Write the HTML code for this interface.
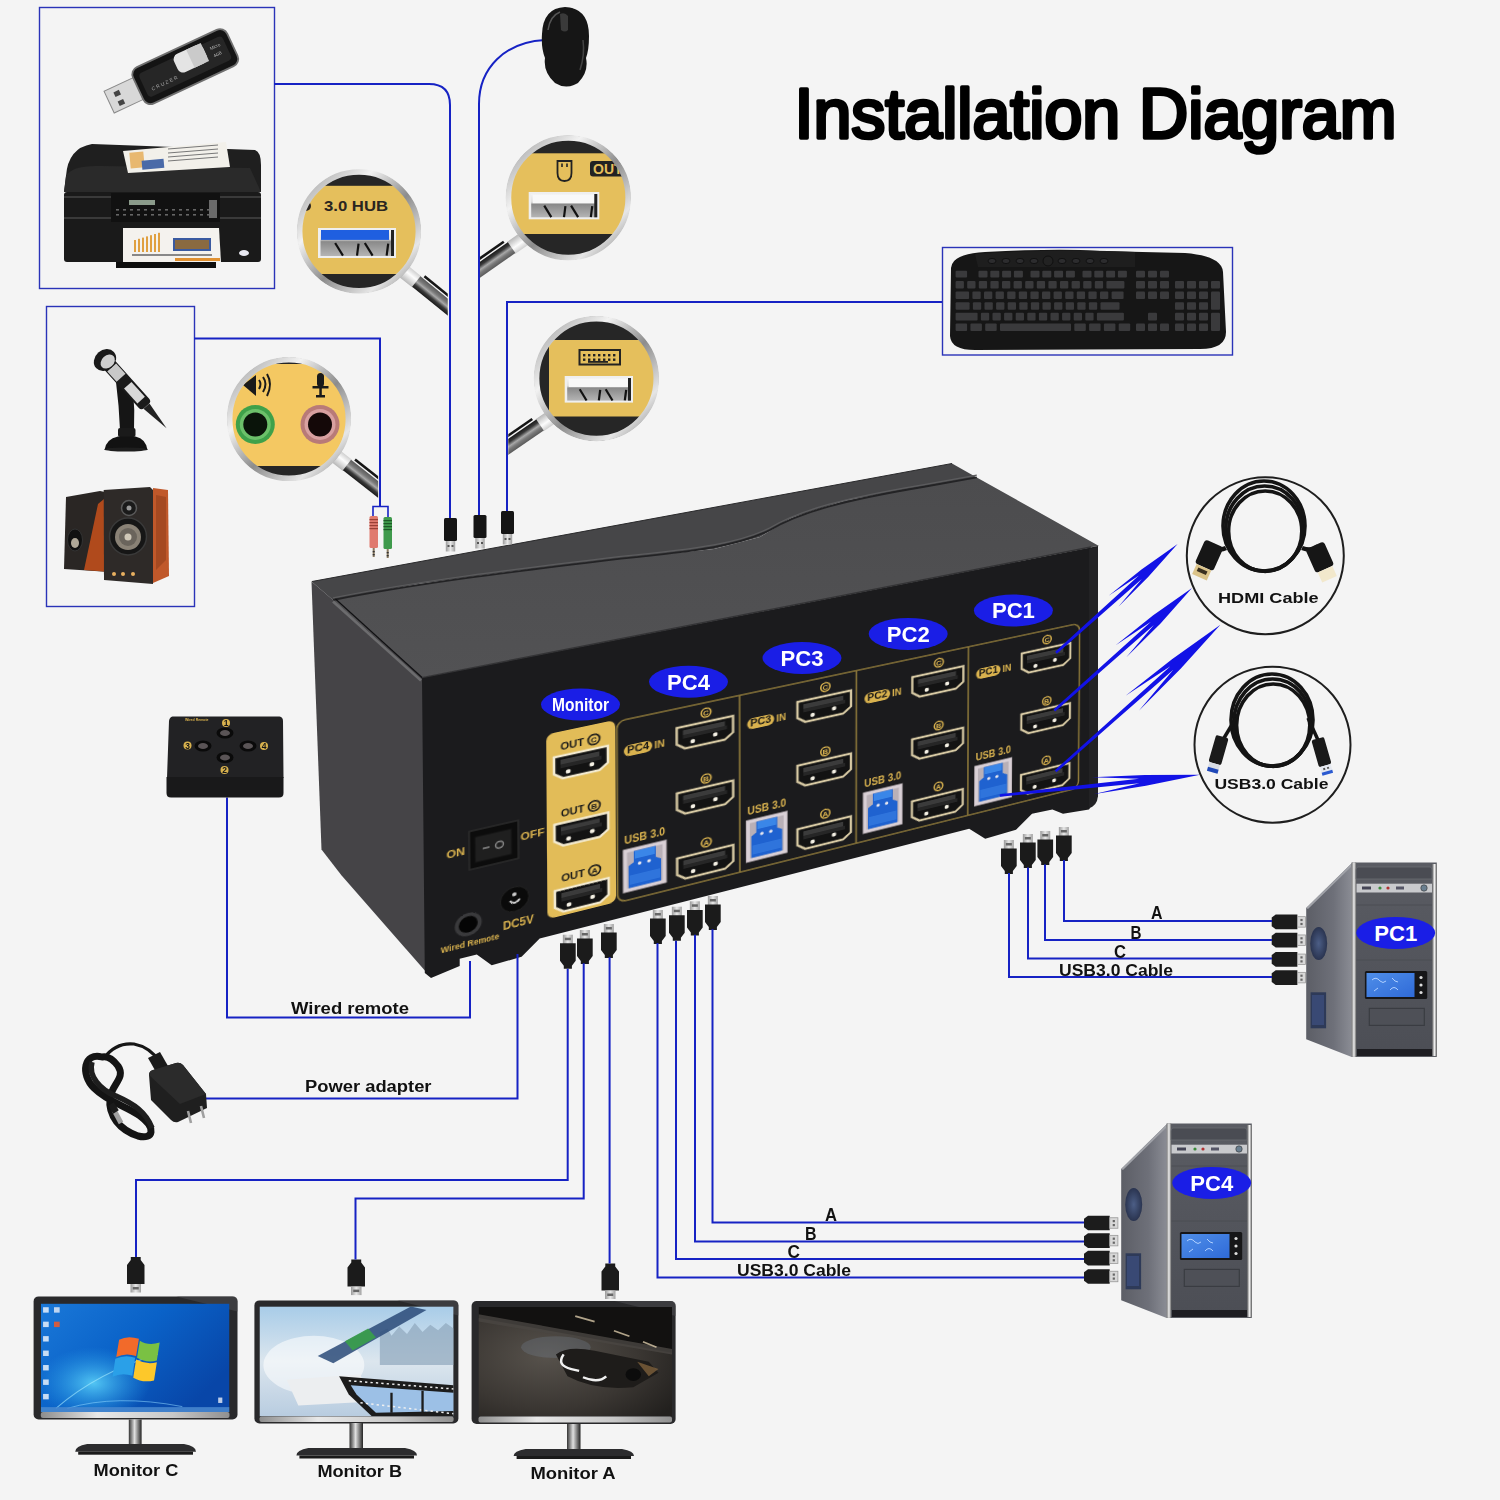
<!DOCTYPE html>
<html><head><meta charset="utf-8"><style>
html,body{margin:0;padding:0;background:#f4f4f4;width:1500px;height:1500px;overflow:hidden;position:relative}
svg text{font-family:"Liberation Sans",sans-serif}
.L{position:absolute;left:0;top:0}
</style></head><body>
<svg class="L" width="1500" height="1500" viewBox="0 0 1500 1500"><defs>
<linearGradient id="ring" x1="0" y1="0" x2="1" y2="1">
 <stop offset="0" stop-color="#9a9a9a"/><stop offset="0.3" stop-color="#f2f2f2"/>
 <stop offset="0.55" stop-color="#8c8c8c"/><stop offset="0.8" stop-color="#e6e6e6"/><stop offset="1" stop-color="#7a7a7a"/>
</linearGradient>
<linearGradient id="handle" x1="0" y1="0" x2="0" y2="1">
 <stop offset="0" stop-color="#5a5a5a"/><stop offset="0.3" stop-color="#7a7a7a"/><stop offset="0.5" stop-color="#a8a8a8"/><stop offset="0.75" stop-color="#3a3a3a"/><stop offset="1" stop-color="#1a1a1a"/>
</linearGradient>
<linearGradient id="ferrule" x1="0" y1="0" x2="0" y2="1">
 <stop offset="0" stop-color="#d0d0d0"/><stop offset="0.4" stop-color="#fcfcfc"/><stop offset="1" stop-color="#b8b8b8"/>
</linearGradient>
<linearGradient id="usbport" x1="0" y1="0" x2="0" y2="1">
 <stop offset="0" stop-color="#f4f4f4"/><stop offset="0.35" stop-color="#dcdcdc"/><stop offset="0.45" stop-color="#8a8a8a"/><stop offset="1" stop-color="#b4b4b4"/>
</linearGradient>
<linearGradient id="sideface" x1="0" y1="0" x2="1" y2="0">
 <stop offset="0" stop-color="#3c3c3e"/><stop offset="1" stop-color="#4a4a4c"/>
</linearGradient>
<linearGradient id="topface" x1="0" y1="0" x2="0" y2="1">
 <stop offset="0" stop-color="#4c4c4e"/><stop offset="1" stop-color="#525254"/>
</linearGradient>
<linearGradient id="pcside" x1="0" y1="0" x2="1" y2="0">
 <stop offset="0" stop-color="#5c5e66"/><stop offset="0.6" stop-color="#6e7079"/><stop offset="1" stop-color="#8a8c94"/>
</linearGradient>
<linearGradient id="pcfront" x1="0" y1="0" x2="0" y2="1">
 <stop offset="0" stop-color="#5a5c63"/><stop offset="1" stop-color="#4c4e55"/>
</linearGradient>
<linearGradient id="chrome" x1="0" y1="0" x2="1" y2="0">
 <stop offset="0" stop-color="#777"/><stop offset="0.5" stop-color="#f0f0f0"/><stop offset="1" stop-color="#666"/>
</linearGradient>
<linearGradient id="chin" x1="0" y1="0" x2="1" y2="0">
 <stop offset="0" stop-color="#8d8d8d"/><stop offset="0.3" stop-color="#e8e8e8"/><stop offset="0.7" stop-color="#c8c8c8"/><stop offset="1" stop-color="#909090"/>
</linearGradient>
<linearGradient id="neck" x1="0" y1="0" x2="1" y2="0">
 <stop offset="0" stop-color="#333"/><stop offset="0.45" stop-color="#e0e0e0"/><stop offset="1" stop-color="#222"/>
</linearGradient>
<linearGradient id="scrC" x1="0" y1="0" x2="1" y2="0.6">
 <stop offset="0" stop-color="#1a78d8"/><stop offset="0.5" stop-color="#0a62c8"/><stop offset="1" stop-color="#0846a8"/>
</linearGradient>
<radialGradient id="glowC" cx="0.5" cy="0.5" r="0.5">
 <stop offset="0" stop-color="#5ad0f8" stop-opacity="0.9"/><stop offset="1" stop-color="#2aa0e8" stop-opacity="0"/>
</radialGradient>
<linearGradient id="scrB" x1="0" y1="0" x2="0" y2="1">
 <stop offset="0" stop-color="#a8cce8"/><stop offset="0.5" stop-color="#dce6ee"/><stop offset="1" stop-color="#b8cce0"/>
</linearGradient>
<radialGradient id="scrA" cx="0.35" cy="0.45" r="0.8">
 <stop offset="0" stop-color="#57524c"/><stop offset="0.6" stop-color="#3a3632"/><stop offset="1" stop-color="#22201e"/>
</radialGradient>
<linearGradient id="lcd" x1="0" y1="0" x2="1" y2="1">
 <stop offset="0" stop-color="#4f8ee8"/><stop offset="1" stop-color="#2f6ad8"/>
</linearGradient>
<radialGradient id="fan" cx="0.5" cy="0.5" r="0.5">
 <stop offset="0" stop-color="#4c5e86"/><stop offset="1" stop-color="#2a3450"/>
</radialGradient>
<linearGradient id="metal" x1="0" y1="0" x2="1" y2="0">
 <stop offset="0" stop-color="#9a9a9a"/><stop offset="0.5" stop-color="#e8e8e8"/><stop offset="1" stop-color="#a0a0a0"/>
</linearGradient>
<linearGradient id="gold" x1="0" y1="0" x2="0" y2="1">
 <stop offset="0" stop-color="#e8c460"/><stop offset="1" stop-color="#dcb452"/>
</linearGradient>
</defs><text x="794.5" y="137.8" font-family="Liberation Sans" font-size="69.5" textLength="602" lengthAdjust="spacingAndGlyphs" fill="#000" stroke="#000" stroke-width="3.6" stroke-linejoin="round">Installation Diagram</text><rect x="39.5" y="7.5" width="235" height="281" fill="none" stroke="#2a33b8" stroke-width="1.4"/><rect x="46.5" y="306.5" width="148" height="300" fill="none" stroke="#2a33b8" stroke-width="1.4"/><rect x="942.5" y="247.5" width="290" height="107.5" fill="none" stroke="#2a33b8" stroke-width="1.4"/><path d="M274 84 L429 84" fill="none" stroke="#1622c4" stroke-width="2" /><path d="M429 84 Q450 84 450 105 L450 520" fill="none" stroke="#1622c4" stroke-width="2"/><path d="M545 40 C505 42 479 68 479 104 L479 516" fill="none" stroke="#1622c4" stroke-width="2"/><path d="M942 302 L507 302 L507 512" fill="none" stroke="#1622c4" stroke-width="2" /><path d="M194 338.5 L380 338.5 L380 506.5" fill="none" stroke="#1622c4" stroke-width="2" /><path d="M373 517 L373 506.5 L388 506.5 L388 517" fill="none" stroke="#1622c4" stroke-width="1.6" /><path d="M311.5 581.5 L952 463.5 L976.8 477.4 L976.8 477.4 L922.7 487 L845 500.6 L791 518 L760 537 L714 549 L621 558.6 L509 572 L420 583.7 L333 600 Z" fill="#464648"/><path d="M311.5 581.5 L333 600 L420 583.7 L509 572 L621 558.6 L714 549 L760 537 L791 518 L845 500.6 L922.7 487 L976.8 477.4 L1099 546 L1092 547 L422 677.6 Z" fill="url(#topface)"/><path d="M333 600 C420 583 509 572 621 558.6 C700 551 740 545 770 530 C800 512 845 500 922.7 487 L976.8 477.4" fill="none" stroke="#232325" stroke-width="1.8"/><path d="M333 597.8 C420 580.8 509 569.8 621 556.4 C700 548.8 740 542.8 770 527.8 C800 509.8 845 497.8 922.7 484.8 L976.8 475.2" fill="none" stroke="#5c5c5e" stroke-width="1.2"/><path d="M311.5 581.5 L424 678 L427 973 L341.6 875.4 L321.5 849.6 Z" fill="#454447"/><path d="M333 601.5 L421 680.5" stroke="#6c6c6e" stroke-width="2.6" fill="none"/><path d="M335.5 599 L422.5 678" stroke="#111113" stroke-width="1.2" fill="none"/><path d="M312 581.5 L952 463.5" stroke="#2a2a2c" stroke-width="1" fill="none"/><path d="M422 677.6 L1098 546 L1098 796 L1089 809.5 L1063 813.7 L1052.4 809.5 L1032 813.7 L1016 829.7 L985.2 838.8 L969.2 828.7 L539.7 938.6 L521.6 956.8 L491.7 965.3 L476.8 954.5 L459.7 958.8 L459.7 966 L431 978 L424.8 973 Z" fill="#1b1b1d"/><path d="M1089 549 L1098 547 L1098 796 Q1097 806 1089 808 Z" fill="#222224"/><path d="M422 677.6 L1091 547" stroke="#333335" stroke-width="1.4" fill="none"/></svg>
<div style="position:absolute;left:0;top:0;width:670px;height:300px;transform-origin:0 0;transform:matrix3d(1.24698826,-0.0718020769,0,0.000226179728,0.02129729,0.992397906,0,2.65818588e-05,0,0,1,0,422,678,0,1)"><svg width="670" height="300" viewBox="0 0 670 300" style="display:block;overflow:visible"><rect x="110" y="85" width="64" height="196" rx="7" fill="#e2bc58"/><rect x="175.5" y="87" width="481" height="195" rx="8" fill="none" stroke="#8f7a3a" stroke-width="1.6"/><line x1="294" y1="87" x2="294" y2="282" stroke="#8f7a3a" stroke-width="1.6"/><line x1="412.5" y1="87" x2="412.5" y2="282" stroke="#8f7a3a" stroke-width="1.6"/><line x1="532" y1="87" x2="532" y2="282" stroke="#8f7a3a" stroke-width="1.6"/><path d="M117 111 L167 111 L167 129 L159 135 L125 135 L117 129 L117 111 Z" fill="#131313" stroke="#f3ead0" stroke-width="2.4"/><rect x="123" y="115" width="36" height="5" fill="#3b3b3b"/><rect x="123" y="120" width="38" height="4" fill="#262626"/><circle cx="130" cy="129" r="2.3" fill="#f4f0e4"/><circle cx="152" cy="127" r="2.3" fill="#f4f0e4"/><text x="123" y="105" font-family="Liberation Sans" font-weight="bold" font-size="11" fill="#1a1a1a" textLength="22" lengthAdjust="spacingAndGlyphs">OUT</text><circle cx="154" cy="101" r="5.4" fill="none" stroke="#1a1a1a" stroke-width="1.6"/><text x="154" y="103.9" font-family="Liberation Sans" font-weight="bold" font-size="8" text-anchor="middle" fill="#1a1a1a">C</text><path d="M117 182.5 L167 182.5 L167 200.5 L159 206.5 L125 206.5 L117 200.5 L117 182.5 Z" fill="#131313" stroke="#f3ead0" stroke-width="2.4"/><rect x="123" y="186.5" width="36" height="5" fill="#3b3b3b"/><rect x="123" y="191.5" width="38" height="4" fill="#262626"/><circle cx="130" cy="200.5" r="2.3" fill="#f4f0e4"/><circle cx="152" cy="198.5" r="2.3" fill="#f4f0e4"/><text x="123" y="176" font-family="Liberation Sans" font-weight="bold" font-size="11" fill="#1a1a1a" textLength="22" lengthAdjust="spacingAndGlyphs">OUT</text><circle cx="154" cy="172" r="5.4" fill="none" stroke="#1a1a1a" stroke-width="1.6"/><text x="154" y="174.9" font-family="Liberation Sans" font-weight="bold" font-size="8" text-anchor="middle" fill="#1a1a1a">B</text><path d="M117 253 L167 253 L167 271 L159 277 L125 277 L117 271 L117 253 Z" fill="#131313" stroke="#f3ead0" stroke-width="2.4"/><rect x="123" y="257" width="36" height="5" fill="#3b3b3b"/><rect x="123" y="262" width="38" height="4" fill="#262626"/><circle cx="130" cy="271" r="2.3" fill="#f4f0e4"/><circle cx="152" cy="269" r="2.3" fill="#f4f0e4"/><text x="123" y="245" font-family="Liberation Sans" font-weight="bold" font-size="11" fill="#1a1a1a" textLength="22" lengthAdjust="spacingAndGlyphs">OUT</text><circle cx="154" cy="241" r="5.4" fill="none" stroke="#1a1a1a" stroke-width="1.6"/><text x="154" y="243.9" font-family="Liberation Sans" font-weight="bold" font-size="8" text-anchor="middle" fill="#1a1a1a">A</text><path d="M232.5 108 L287.5 108 L287.5 126 L279.5 132 L240.5 132 L232.5 126 L232.5 108 Z" fill="#131313" stroke="#d8caa4" stroke-width="2.4"/><rect x="238.5" y="112" width="41" height="5" fill="#3b3b3b"/><rect x="238.5" y="117" width="43" height="4" fill="#262626"/><circle cx="248" cy="126" r="2.3" fill="#f4f0e4"/><circle cx="270" cy="124" r="2.3" fill="#f4f0e4"/><circle cx="261" cy="98" r="4.7" fill="none" stroke="#d9b24e" stroke-width="1.6"/><text x="261" y="100.9" font-family="Liberation Sans" font-weight="bold" font-size="8" text-anchor="middle" fill="#d9b24e">C</text><path d="M232.5 179 L287.5 179 L287.5 197 L279.5 203 L240.5 203 L232.5 197 L232.5 179 Z" fill="#131313" stroke="#d8caa4" stroke-width="2.4"/><rect x="238.5" y="183" width="41" height="5" fill="#3b3b3b"/><rect x="238.5" y="188" width="43" height="4" fill="#262626"/><circle cx="248" cy="197" r="2.3" fill="#f4f0e4"/><circle cx="270" cy="195" r="2.3" fill="#f4f0e4"/><circle cx="261" cy="170" r="4.7" fill="none" stroke="#d9b24e" stroke-width="1.6"/><text x="261" y="172.9" font-family="Liberation Sans" font-weight="bold" font-size="8" text-anchor="middle" fill="#d9b24e">B</text><path d="M232.5 250 L287.5 250 L287.5 268 L279.5 274 L240.5 274 L232.5 268 L232.5 250 Z" fill="#131313" stroke="#d8caa4" stroke-width="2.4"/><rect x="238.5" y="254" width="41" height="5" fill="#3b3b3b"/><rect x="238.5" y="259" width="43" height="4" fill="#262626"/><circle cx="248" cy="268" r="2.3" fill="#f4f0e4"/><circle cx="270" cy="266" r="2.3" fill="#f4f0e4"/><circle cx="261" cy="240" r="4.7" fill="none" stroke="#d9b24e" stroke-width="1.6"/><text x="261" y="242.9" font-family="Liberation Sans" font-weight="bold" font-size="8" text-anchor="middle" fill="#d9b24e">A</text><rect x="181" y="227" width="41" height="46" fill="#d9d0d6" stroke="#bdb3b9" stroke-width="1"/><rect x="184.5" y="230.5" width="34" height="39" fill="#b9b0b7"/><path d="M191 230.5 h21 v12 l5 3 v24 h-31 v-24 l5 -3 z" fill="#1f62d0"/><rect x="192" y="231" width="19" height="8" fill="#3a86e8"/><rect x="187" y="256" width="29" height="10" fill="#2f74dc"/><circle cx="196.5" cy="245" r="1.8" fill="#e8e8f0"/><circle cx="205.5" cy="245" r="1.8" fill="#e8e8f0"/><text x="182" y="221.5" font-family="Liberation Sans" font-weight="bold" font-size="12.5" fill="#d9b24e" textLength="39" lengthAdjust="spacingAndGlyphs">USB 3.0</text><rect x="182" y="115" width="27" height="12" rx="6" fill="#d9b24e"/><text x="185" y="124.5" font-family="Liberation Sans" font-weight="bold" font-size="10" fill="#161616" textLength="21" lengthAdjust="spacingAndGlyphs">PC4</text><text x="211" y="125" font-family="Liberation Sans" font-weight="bold" font-size="10" fill="#d9b24e">IN</text><path d="M352 108 L407 108 L407 126 L399 132 L360 132 L352 126 L352 108 Z" fill="#131313" stroke="#d8caa4" stroke-width="2.4"/><rect x="358" y="112" width="41" height="5" fill="#3b3b3b"/><rect x="358" y="117" width="43" height="4" fill="#262626"/><circle cx="367.5" cy="126" r="2.3" fill="#f4f0e4"/><circle cx="389.5" cy="124" r="2.3" fill="#f4f0e4"/><circle cx="380.5" cy="98" r="4.7" fill="none" stroke="#d9b24e" stroke-width="1.6"/><text x="380.5" y="100.9" font-family="Liberation Sans" font-weight="bold" font-size="8" text-anchor="middle" fill="#d9b24e">C</text><path d="M352 179 L407 179 L407 197 L399 203 L360 203 L352 197 L352 179 Z" fill="#131313" stroke="#d8caa4" stroke-width="2.4"/><rect x="358" y="183" width="41" height="5" fill="#3b3b3b"/><rect x="358" y="188" width="43" height="4" fill="#262626"/><circle cx="367.5" cy="197" r="2.3" fill="#f4f0e4"/><circle cx="389.5" cy="195" r="2.3" fill="#f4f0e4"/><circle cx="380.5" cy="170" r="4.7" fill="none" stroke="#d9b24e" stroke-width="1.6"/><text x="380.5" y="172.9" font-family="Liberation Sans" font-weight="bold" font-size="8" text-anchor="middle" fill="#d9b24e">B</text><path d="M352 250 L407 250 L407 268 L399 274 L360 274 L352 268 L352 250 Z" fill="#131313" stroke="#d8caa4" stroke-width="2.4"/><rect x="358" y="254" width="41" height="5" fill="#3b3b3b"/><rect x="358" y="259" width="43" height="4" fill="#262626"/><circle cx="367.5" cy="268" r="2.3" fill="#f4f0e4"/><circle cx="389.5" cy="266" r="2.3" fill="#f4f0e4"/><circle cx="380.5" cy="240" r="4.7" fill="none" stroke="#d9b24e" stroke-width="1.6"/><text x="380.5" y="242.9" font-family="Liberation Sans" font-weight="bold" font-size="8" text-anchor="middle" fill="#d9b24e">A</text><rect x="300.5" y="227" width="41" height="46" fill="#d9d0d6" stroke="#bdb3b9" stroke-width="1"/><rect x="304" y="230.5" width="34" height="39" fill="#b9b0b7"/><path d="M310.5 230.5 h21 v12 l5 3 v24 h-31 v-24 l5 -3 z" fill="#1f62d0"/><rect x="311.5" y="231" width="19" height="8" fill="#3a86e8"/><rect x="306.5" y="256" width="29" height="10" fill="#2f74dc"/><circle cx="316" cy="245" r="1.8" fill="#e8e8f0"/><circle cx="325" cy="245" r="1.8" fill="#e8e8f0"/><text x="301.5" y="221.5" font-family="Liberation Sans" font-weight="bold" font-size="12.5" fill="#d9b24e" textLength="39" lengthAdjust="spacingAndGlyphs">USB 3.0</text><rect x="301.5" y="115" width="27" height="12" rx="6" fill="#d9b24e"/><text x="304.5" y="124.5" font-family="Liberation Sans" font-weight="bold" font-size="10" fill="#161616" textLength="21" lengthAdjust="spacingAndGlyphs">PC3</text><text x="330.5" y="125" font-family="Liberation Sans" font-weight="bold" font-size="10" fill="#d9b24e">IN</text><path d="M471.5 108 L526.5 108 L526.5 126 L518.5 132 L479.5 132 L471.5 126 L471.5 108 Z" fill="#131313" stroke="#d8caa4" stroke-width="2.4"/><rect x="477.5" y="112" width="41" height="5" fill="#3b3b3b"/><rect x="477.5" y="117" width="43" height="4" fill="#262626"/><circle cx="487" cy="126" r="2.3" fill="#f4f0e4"/><circle cx="509" cy="124" r="2.3" fill="#f4f0e4"/><circle cx="500" cy="98" r="4.7" fill="none" stroke="#d9b24e" stroke-width="1.6"/><text x="500" y="100.9" font-family="Liberation Sans" font-weight="bold" font-size="8" text-anchor="middle" fill="#d9b24e">C</text><path d="M471.5 179 L526.5 179 L526.5 197 L518.5 203 L479.5 203 L471.5 197 L471.5 179 Z" fill="#131313" stroke="#d8caa4" stroke-width="2.4"/><rect x="477.5" y="183" width="41" height="5" fill="#3b3b3b"/><rect x="477.5" y="188" width="43" height="4" fill="#262626"/><circle cx="487" cy="197" r="2.3" fill="#f4f0e4"/><circle cx="509" cy="195" r="2.3" fill="#f4f0e4"/><circle cx="500" cy="170" r="4.7" fill="none" stroke="#d9b24e" stroke-width="1.6"/><text x="500" y="172.9" font-family="Liberation Sans" font-weight="bold" font-size="8" text-anchor="middle" fill="#d9b24e">B</text><path d="M471.5 250 L526.5 250 L526.5 268 L518.5 274 L479.5 274 L471.5 268 L471.5 250 Z" fill="#131313" stroke="#d8caa4" stroke-width="2.4"/><rect x="477.5" y="254" width="41" height="5" fill="#3b3b3b"/><rect x="477.5" y="259" width="43" height="4" fill="#262626"/><circle cx="487" cy="268" r="2.3" fill="#f4f0e4"/><circle cx="509" cy="266" r="2.3" fill="#f4f0e4"/><circle cx="500" cy="240" r="4.7" fill="none" stroke="#d9b24e" stroke-width="1.6"/><text x="500" y="242.9" font-family="Liberation Sans" font-weight="bold" font-size="8" text-anchor="middle" fill="#d9b24e">A</text><rect x="420" y="227" width="41" height="46" fill="#d9d0d6" stroke="#bdb3b9" stroke-width="1"/><rect x="423.5" y="230.5" width="34" height="39" fill="#b9b0b7"/><path d="M430 230.5 h21 v12 l5 3 v24 h-31 v-24 l5 -3 z" fill="#1f62d0"/><rect x="431" y="231" width="19" height="8" fill="#3a86e8"/><rect x="426" y="256" width="29" height="10" fill="#2f74dc"/><circle cx="435.5" cy="245" r="1.8" fill="#e8e8f0"/><circle cx="444.5" cy="245" r="1.8" fill="#e8e8f0"/><text x="421" y="221.5" font-family="Liberation Sans" font-weight="bold" font-size="12.5" fill="#d9b24e" textLength="39" lengthAdjust="spacingAndGlyphs">USB 3.0</text><rect x="421" y="115" width="27" height="12" rx="6" fill="#d9b24e"/><text x="424" y="124.5" font-family="Liberation Sans" font-weight="bold" font-size="10" fill="#161616" textLength="21" lengthAdjust="spacingAndGlyphs">PC2</text><text x="450" y="125" font-family="Liberation Sans" font-weight="bold" font-size="10" fill="#d9b24e">IN</text><path d="M591 108 L646 108 L646 126 L638 132 L599 132 L591 126 L591 108 Z" fill="#131313" stroke="#d8caa4" stroke-width="2.4"/><rect x="597" y="112" width="41" height="5" fill="#3b3b3b"/><rect x="597" y="117" width="43" height="4" fill="#262626"/><circle cx="606.5" cy="126" r="2.3" fill="#f4f0e4"/><circle cx="628.5" cy="124" r="2.3" fill="#f4f0e4"/><circle cx="619.5" cy="98" r="4.7" fill="none" stroke="#d9b24e" stroke-width="1.6"/><text x="619.5" y="100.9" font-family="Liberation Sans" font-weight="bold" font-size="8" text-anchor="middle" fill="#d9b24e">C</text><path d="M591 179 L646 179 L646 197 L638 203 L599 203 L591 197 L591 179 Z" fill="#131313" stroke="#d8caa4" stroke-width="2.4"/><rect x="597" y="183" width="41" height="5" fill="#3b3b3b"/><rect x="597" y="188" width="43" height="4" fill="#262626"/><circle cx="606.5" cy="197" r="2.3" fill="#f4f0e4"/><circle cx="628.5" cy="195" r="2.3" fill="#f4f0e4"/><circle cx="619.5" cy="170" r="4.7" fill="none" stroke="#d9b24e" stroke-width="1.6"/><text x="619.5" y="172.9" font-family="Liberation Sans" font-weight="bold" font-size="8" text-anchor="middle" fill="#d9b24e">B</text><path d="M591 250 L646 250 L646 268 L638 274 L599 274 L591 268 L591 250 Z" fill="#131313" stroke="#d8caa4" stroke-width="2.4"/><rect x="597" y="254" width="41" height="5" fill="#3b3b3b"/><rect x="597" y="259" width="43" height="4" fill="#262626"/><circle cx="606.5" cy="268" r="2.3" fill="#f4f0e4"/><circle cx="628.5" cy="266" r="2.3" fill="#f4f0e4"/><circle cx="619.5" cy="240" r="4.7" fill="none" stroke="#d9b24e" stroke-width="1.6"/><text x="619.5" y="242.9" font-family="Liberation Sans" font-weight="bold" font-size="8" text-anchor="middle" fill="#d9b24e">A</text><rect x="539.5" y="227" width="41" height="46" fill="#d9d0d6" stroke="#bdb3b9" stroke-width="1"/><rect x="543" y="230.5" width="34" height="39" fill="#b9b0b7"/><path d="M549.5 230.5 h21 v12 l5 3 v24 h-31 v-24 l5 -3 z" fill="#1f62d0"/><rect x="550.5" y="231" width="19" height="8" fill="#3a86e8"/><rect x="545.5" y="256" width="29" height="10" fill="#2f74dc"/><circle cx="555" cy="245" r="1.8" fill="#e8e8f0"/><circle cx="564" cy="245" r="1.8" fill="#e8e8f0"/><text x="540.5" y="221.5" font-family="Liberation Sans" font-weight="bold" font-size="12.5" fill="#d9b24e" textLength="39" lengthAdjust="spacingAndGlyphs">USB 3.0</text><rect x="540.5" y="115" width="27" height="12" rx="6" fill="#d9b24e"/><text x="543.5" y="124.5" font-family="Liberation Sans" font-weight="bold" font-size="10" fill="#161616" textLength="21" lengthAdjust="spacingAndGlyphs">PC1</text><text x="569.5" y="125" font-family="Liberation Sans" font-weight="bold" font-size="10" fill="#d9b24e">IN</text><rect x="40" y="169" width="44" height="40" fill="#0c0c0c" stroke="#2b2b2b" stroke-width="1.5"/><rect x="45" y="176" width="33" height="27" fill="#1f1f1f" stroke="#111" stroke-width="1"/><line x1="52" y1="190" x2="58" y2="190" stroke="#8a8a8a" stroke-width="1.6"/><circle cx="67" cy="190" r="3.5" fill="none" stroke="#8a8a8a" stroke-width="1.4"/><text x="28" y="192" font-family="Liberation Sans" font-weight="bold" font-size="11" text-anchor="middle" fill="#d9b24e">ON</text><text x="97" y="191" font-family="Liberation Sans" font-weight="bold" font-size="11" text-anchor="middle" fill="#d9b24e">OFF</text><circle cx="38.5" cy="265.7" r="12" fill="#3a3a3c"/><circle cx="38.5" cy="265.7" r="8.5" fill="#050505"/><circle cx="80.3" cy="251.2" r="13" fill="#0a0a0a" stroke="#222" stroke-width="1"/><path d="M76 252 q4 6 9 0" stroke="#d0d0d0" stroke-width="2" fill="none"/><circle cx="80" cy="246" r="2" fill="#cfcfcf"/><text x="40" y="289" font-family="Liberation Sans" font-weight="bold" font-size="9" text-anchor="middle" fill="#d9b24e" textLength="52" lengthAdjust="spacingAndGlyphs">Wired Remote</text><text x="83.4" y="281" font-family="Liberation Sans" font-weight="bold" font-size="12" text-anchor="middle" fill="#d9b24e" textLength="28" lengthAdjust="spacingAndGlyphs">DC5V</text></svg></div>
<svg class="L" width="1500" height="1500" viewBox="0 0 1500 1500"><ellipse cx="580.5" cy="704.5" rx="39.5" ry="16" fill="#1a1ee6"/><text x="580.5" y="711.34" font-family="Liberation Sans" font-weight="bold" font-size="19" text-anchor="middle" fill="#fff" textLength="57" lengthAdjust="spacingAndGlyphs">Monitor</text><ellipse cx="688.5" cy="681.8" rx="39.5" ry="16" fill="#1a1ee6"/><text x="688.5" y="689.54" font-family="Liberation Sans" font-weight="bold" font-size="21.5" text-anchor="middle" fill="#fff" textLength="43" lengthAdjust="spacingAndGlyphs">PC4</text><ellipse cx="802" cy="658" rx="39.5" ry="16" fill="#1a1ee6"/><text x="802" y="665.74" font-family="Liberation Sans" font-weight="bold" font-size="21.5" text-anchor="middle" fill="#fff" textLength="43" lengthAdjust="spacingAndGlyphs">PC3</text><ellipse cx="908.2" cy="633.9" rx="39.5" ry="16" fill="#1a1ee6"/><text x="908.2" y="641.64" font-family="Liberation Sans" font-weight="bold" font-size="21.5" text-anchor="middle" fill="#fff" textLength="43" lengthAdjust="spacingAndGlyphs">PC2</text><ellipse cx="1013.4" cy="610.5" rx="39.5" ry="16" fill="#1a1ee6"/><text x="1013.4" y="618.24" font-family="Liberation Sans" font-weight="bold" font-size="21.5" text-anchor="middle" fill="#fff" textLength="43" lengthAdjust="spacingAndGlyphs">PC1</text><clipPath id="m1"><circle cx="359" cy="231.4" r="59.5"/></clipPath><clipPath id="m1h"><rect x="0" y="0" width="447.774" height="1500"/></clipPath><g clip-path="url(#m1h)"><g transform="translate(416.3 281.5) rotate(39)"><rect x="-16" y="-7.2" width="17" height="14.4" rx="1" fill="url(#ferrule)"/><rect x="0" y="-6.6" width="48.5" height="13.2" fill="url(#handle)"/><rect x="3" y="-10.5" width="45.5" height="2.6" fill="#151515"/><rect x="40.5" y="-12" width="10" height="24" fill="none"/></g></g><circle cx="359" cy="231.4" r="61.5" fill="#262626"/><g clip-path="url(#m1)"><rect x="290" y="185.8" width="140" height="88.2" fill="#e5bf5c"/><text x="356" y="211" font-family="Liberation Sans" font-weight="bold" font-size="14.5" text-anchor="middle" fill="#2a2520" textLength="64" lengthAdjust="spacingAndGlyphs">3.0 HUB</text><circle cx="306" cy="206" r="5" fill="#2a2520"/><rect x="318" y="228" width="78" height="30" fill="#efefef"/><rect x="320.5" y="230" width="73" height="26" fill="url(#usbport)"/><rect x="321" y="230" width="68" height="9.9" fill="#1f5fe0"/><path d="M335.16 243 l7.8 12.6" stroke="#111" stroke-width="2.2"/><path d="M358.56 243.6 l-1.56 12" stroke="#111" stroke-width="2.2"/><path d="M364.8 243 l7.8 12.6" stroke="#111" stroke-width="2.2"/><path d="M388.2 243.6 l-1.56 12" stroke="#111" stroke-width="2.2"/><rect x="391" y="230" width="3" height="26" fill="#222"/></g><circle cx="359" cy="231.4" r="59.3" fill="none" stroke="url(#ring)" stroke-width="5.5"/><clipPath id="m2"><circle cx="568.3" cy="197.7" r="60"/></clipPath><clipPath id="m2h"><rect x="480.063" y="0" width="1500" height="1500"/></clipPath><g clip-path="url(#m2h)"><g transform="translate(511.6 247.6) rotate(145)"><rect x="-16" y="-7.2" width="17" height="14.4" rx="1" fill="url(#ferrule)"/><rect x="0" y="-6.6" width="46.5" height="13.2" fill="url(#handle)"/><rect x="3" y="8" width="43.5" height="2.6" fill="#151515"/><rect x="38.5" y="-12" width="10" height="24" fill="none"/></g></g><circle cx="568.3" cy="197.7" r="62" fill="#262626"/><g clip-path="url(#m2)"><rect x="500" y="153.3" width="140" height="80.7" fill="#e5bf5c"/><path d="M557.5 161 h14 v12 q0 8 -7 8 q-7 0 -7 -8 z" fill="none" stroke="#222" stroke-width="1.8"/><line x1="562" y1="163.5" x2="562" y2="167" stroke="#222" stroke-width="1.6"/><line x1="567" y1="163.5" x2="567" y2="167" stroke="#222" stroke-width="1.6"/><rect x="590" y="161" width="60" height="15.5" rx="3" fill="#222"/><text x="593" y="174" font-family="Liberation Sans" font-weight="bold" font-size="14" fill="#e5bf5c">OUT</text><rect x="528.7" y="192" width="70.6" height="27.3" fill="#efefef"/><rect x="531.2" y="194" width="65.6" height="23.3" fill="url(#usbport)"/><rect x="532.7" y="195" width="61.6" height="8.19" fill="#f8f8f8"/><path d="M544.232 205.65 l7.06 11.466" stroke="#111" stroke-width="2.2"/><path d="M565.412 206.196 l-1.412 10.92" stroke="#111" stroke-width="2.2"/><path d="M571.06 205.65 l7.06 11.466" stroke="#111" stroke-width="2.2"/><path d="M592.24 206.196 l-1.412 10.92" stroke="#111" stroke-width="2.2"/><rect x="594.3" y="194" width="3" height="23.3" fill="#222"/></g><circle cx="568.3" cy="197.7" r="59.8" fill="none" stroke="url(#ring)" stroke-width="5.5"/><clipPath id="m3"><circle cx="596.4" cy="378.6" r="60"/></clipPath><clipPath id="m3h"><rect x="508.271" y="0" width="1500" height="1500"/></clipPath><g clip-path="url(#m3h)"><g transform="translate(540 425) rotate(145.5)"><rect x="-16" y="-7.2" width="17" height="14.4" rx="1" fill="url(#ferrule)"/><rect x="0" y="-6.6" width="46.5" height="13.2" fill="url(#handle)"/><rect x="3" y="8" width="43.5" height="2.6" fill="#151515"/><rect x="38.5" y="-12" width="10" height="24" fill="none"/></g></g><circle cx="596.4" cy="378.6" r="62" fill="#262626"/><g clip-path="url(#m3)"><rect x="549" y="340" width="120" height="76.5" fill="#e5bf5c"/><rect x="579.5" y="350" width="40.5" height="14.5" fill="none" stroke="#222" stroke-width="2"/><rect x="583" y="354" width="2.4" height="2.4" fill="#222"/><rect x="588" y="354" width="2.4" height="2.4" fill="#222"/><rect x="593" y="354" width="2.4" height="2.4" fill="#222"/><rect x="598" y="354" width="2.4" height="2.4" fill="#222"/><rect x="603" y="354" width="2.4" height="2.4" fill="#222"/><rect x="608" y="354" width="2.4" height="2.4" fill="#222"/><rect x="613" y="354" width="2.4" height="2.4" fill="#222"/><rect x="583" y="358.5" width="2.4" height="2.4" fill="#222"/><rect x="588" y="358.5" width="2.4" height="2.4" fill="#222"/><rect x="593" y="358.5" width="2.4" height="2.4" fill="#222"/><rect x="598" y="358.5" width="2.4" height="2.4" fill="#222"/><rect x="603" y="358.5" width="2.4" height="2.4" fill="#222"/><rect x="608" y="358.5" width="2.4" height="2.4" fill="#222"/><rect x="613" y="358.5" width="2.4" height="2.4" fill="#222"/><rect x="588" y="361" width="20" height="1.8" fill="#222"/><rect x="564.7" y="376" width="68.3" height="26.6" fill="#efefef"/><rect x="567.2" y="378" width="63.3" height="22.6" fill="url(#usbport)"/><rect x="568.7" y="379" width="59.3" height="7.98" fill="#f8f8f8"/><path d="M579.726 389.3 l6.83 11.172" stroke="#111" stroke-width="2.2"/><path d="M600.216 389.832 l-1.366 10.64" stroke="#111" stroke-width="2.2"/><path d="M605.68 389.3 l6.83 11.172" stroke="#111" stroke-width="2.2"/><path d="M626.17 389.832 l-1.366 10.64" stroke="#111" stroke-width="2.2"/><rect x="628" y="378" width="3" height="22.6" fill="#222"/></g><circle cx="596.4" cy="378.6" r="59.8" fill="none" stroke="url(#ring)" stroke-width="5.5"/><clipPath id="m4"><circle cx="289" cy="419" r="59.5"/></clipPath><clipPath id="m4h"><rect x="0" y="0" width="378.126" height="1500"/></clipPath><g clip-path="url(#m4h)"><g transform="translate(347 465) rotate(38)"><rect x="-16" y="-7.2" width="17" height="14.4" rx="1" fill="url(#ferrule)"/><rect x="0" y="-6.6" width="47.5" height="13.2" fill="url(#handle)"/><rect x="3" y="-10.5" width="44.5" height="2.6" fill="#151515"/><rect x="39.5" y="-12" width="10" height="24" fill="none"/></g></g><circle cx="289" cy="419" r="61.5" fill="#262626"/><g clip-path="url(#m4)"><rect x="220" y="364" width="140" height="102" fill="#f4c862"/><circle cx="255.3" cy="424.4" r="19.5" fill="#3fa14a"/><circle cx="255.3" cy="424.4" r="15.5" fill="#6cc06a"/><circle cx="255.3" cy="424.4" r="12" fill="#0a140a"/><circle cx="320" cy="424.4" r="19.5" fill="#b87a78"/><circle cx="320" cy="424.4" r="15.5" fill="#d8a0a0"/><circle cx="320" cy="424.4" r="12" fill="#140808"/><path d="M243 385 L256 375 L256 396 Z" fill="#1a1a1a"/><path d="M259 380 q3 4 0 9 M263 377 q5 7 0 15 M267 374 q6 10 0 22" stroke="#1a1a1a" stroke-width="2" fill="none"/><rect x="317" y="373" width="7" height="14" rx="3.5" fill="#1a1a1a"/><rect x="312.5" y="386" width="16" height="2.5" fill="#1a1a1a"/><rect x="319.3" y="387" width="2.5" height="9" fill="#1a1a1a"/><rect x="316" y="395" width="9" height="2.5" fill="#1a1a1a"/></g><circle cx="289" cy="419" r="59.3" fill="none" stroke="url(#ring)" stroke-width="5.5"/><path d="M450 280 L450 520" fill="none" stroke="#1622c4" stroke-width="2" /><path d="M479 240 L479 516" fill="none" stroke="#1622c4" stroke-width="2" /><path d="M507 400 L507 512" fill="none" stroke="#1622c4" stroke-width="2" /><path d="M380 460 L380 506.5" fill="none" stroke="#1622c4" stroke-width="2" /><rect x="444" y="518" width="13" height="23" rx="1.5" fill="#151515"/><rect x="445.8" y="541" width="9.4" height="10.5" fill="url(#metal)"/><rect x="447.5" y="545" width="2" height="2" fill="#555"/><rect x="451.5" y="545" width="2" height="2" fill="#555"/><rect x="473.5" y="515" width="13" height="23" rx="1.5" fill="#151515"/><rect x="475.3" y="538" width="9.4" height="10.5" fill="url(#metal)"/><rect x="477" y="542" width="2" height="2" fill="#555"/><rect x="481" y="542" width="2" height="2" fill="#555"/><rect x="501" y="511" width="13" height="23" rx="1.5" fill="#151515"/><rect x="502.8" y="534" width="9.4" height="10.5" fill="url(#metal)"/><rect x="504.5" y="538" width="2" height="2" fill="#555"/><rect x="508.5" y="538" width="2" height="2" fill="#555"/><rect x="369.5" y="516" width="8.5" height="32" rx="1.5" fill="#e07a6e"/><rect x="369.5" y="519" width="8.5" height="1.2" fill="#9a4036"/><rect x="369.5" y="522" width="8.5" height="1.2" fill="#9a4036"/><rect x="369.5" y="525" width="8.5" height="1.2" fill="#9a4036"/><rect x="369.5" y="528" width="8.5" height="1.2" fill="#9a4036"/><rect x="372.7" y="548" width="2" height="9" fill="#8a7a60"/><rect x="372.7" y="551" width="2" height="1.3" fill="#333"/><rect x="372.7" y="554" width="2" height="1.3" fill="#333"/><rect x="383.5" y="517" width="8.5" height="32" rx="1.5" fill="#3f9a4c"/><rect x="383.5" y="520" width="8.5" height="1.2" fill="#1e5a26"/><rect x="383.5" y="523" width="8.5" height="1.2" fill="#1e5a26"/><rect x="383.5" y="526" width="8.5" height="1.2" fill="#1e5a26"/><rect x="383.5" y="529" width="8.5" height="1.2" fill="#1e5a26"/><rect x="386.7" y="549" width="2" height="9" fill="#8a7a60"/><rect x="386.7" y="552" width="2" height="1.3" fill="#333"/><rect x="386.7" y="555" width="2" height="1.3" fill="#333"/><rect x="562.85" y="934.7" width="10" height="9.6" fill="url(#metal)"/><rect x="564.85" y="937.7" width="6" height="2.5" fill="#666"/><path d="M560 943.3 h15.7 v17.5 l-3.8 5 v3 h-8.1 v-3 l-3.8 -5 z" fill="#1b1b1b"/><rect x="579.85" y="930" width="10" height="9.6" fill="url(#metal)"/><rect x="581.85" y="933" width="6" height="2.5" fill="#666"/><path d="M577 938.6 h15.7 v17.5 l-3.8 5 v3 h-8.1 v-3 l-3.8 -5 z" fill="#1b1b1b"/><rect x="603.85" y="924" width="10" height="9.6" fill="url(#metal)"/><rect x="605.85" y="927" width="6" height="2.5" fill="#666"/><path d="M601 932.6 h15.7 v17.5 l-3.8 5 v3 h-8.1 v-3 l-3.8 -5 z" fill="#1b1b1b"/><rect x="652.85" y="910" width="10" height="9.6" fill="url(#metal)"/><rect x="654.85" y="913" width="6" height="2.5" fill="#666"/><path d="M650 918.6 h15.7 v17.5 l-3.8 5 v3 h-8.1 v-3 l-3.8 -5 z" fill="#1b1b1b"/><rect x="671.85" y="906.7" width="10" height="9.6" fill="url(#metal)"/><rect x="673.85" y="909.7" width="6" height="2.5" fill="#666"/><path d="M669 915.3 h15.7 v17.5 l-3.8 5 v3 h-8.1 v-3 l-3.8 -5 z" fill="#1b1b1b"/><rect x="689.85" y="901.3" width="10" height="9.6" fill="url(#metal)"/><rect x="691.85" y="904.3" width="6" height="2.5" fill="#666"/><path d="M687 909.9 h15.7 v17.5 l-3.8 5 v3 h-8.1 v-3 l-3.8 -5 z" fill="#1b1b1b"/><rect x="707.85" y="896" width="10" height="9.6" fill="url(#metal)"/><rect x="709.85" y="899" width="6" height="2.5" fill="#666"/><path d="M705 904.6 h15.7 v17.5 l-3.8 5 v3 h-8.1 v-3 l-3.8 -5 z" fill="#1b1b1b"/><rect x="1003.85" y="840" width="10" height="9.6" fill="url(#metal)"/><rect x="1005.85" y="843" width="6" height="2.5" fill="#666"/><path d="M1001 848.6 h15.7 v17.5 l-3.8 5 v3 h-8.1 v-3 l-3.8 -5 z" fill="#1b1b1b"/><rect x="1022.85" y="834" width="10" height="9.6" fill="url(#metal)"/><rect x="1024.85" y="837" width="6" height="2.5" fill="#666"/><path d="M1020 842.6 h15.7 v17.5 l-3.8 5 v3 h-8.1 v-3 l-3.8 -5 z" fill="#1b1b1b"/><rect x="1040.25" y="831" width="10" height="9.6" fill="url(#metal)"/><rect x="1042.25" y="834" width="6" height="2.5" fill="#666"/><path d="M1037.4 839.6 h15.7 v17.5 l-3.8 5 v3 h-8.1 v-3 l-3.8 -5 z" fill="#1b1b1b"/><rect x="1058.85" y="827" width="10" height="9.6" fill="url(#metal)"/><rect x="1060.85" y="830" width="6" height="2.5" fill="#666"/><path d="M1056 835.6 h15.7 v17.5 l-3.8 5 v3 h-8.1 v-3 l-3.8 -5 z" fill="#1b1b1b"/><path d="M130.8 1257 h9.9 v3 l3.8 5 v19 h-17.5 v-19 l3.8 -5 z" fill="#1b1b1b"/><rect x="130.5" y="1284" width="10.5" height="8.5" fill="url(#metal)"/><rect x="132.75" y="1287" width="6" height="2.5" fill="#666"/><path d="M351.3 1259.6 h9.9 v3 l3.8 5 v19 h-17.5 v-19 l3.8 -5 z" fill="#1b1b1b"/><rect x="351" y="1286.6" width="10.5" height="8.5" fill="url(#metal)"/><rect x="353.25" y="1289.6" width="6" height="2.5" fill="#666"/><path d="M605.3 1263.5 h9.9 v3 l3.8 5 v19 h-17.5 v-19 l3.8 -5 z" fill="#1b1b1b"/><rect x="605" y="1290.5" width="10.5" height="8.5" fill="url(#metal)"/><rect x="607.25" y="1293.5" width="6" height="2.5" fill="#666"/><path d="M1275.7 914.55 h21.7 v14.7 h-21.7 l-4 -3 v-8.7 z" fill="#1c1c1c"/><rect x="1297.4" y="916.65" width="8.2" height="10.5" fill="#d8d8d8" stroke="#999" stroke-width="0.8"/><rect x="1300.4" y="918.9" width="2.2" height="2.2" fill="#666"/><rect x="1300.4" y="922.9" width="2.2" height="2.2" fill="#666"/><path d="M1275.7 932.85 h21.7 v14.7 h-21.7 l-4 -3 v-8.7 z" fill="#1c1c1c"/><rect x="1297.4" y="934.95" width="8.2" height="10.5" fill="#d8d8d8" stroke="#999" stroke-width="0.8"/><rect x="1300.4" y="937.2" width="2.2" height="2.2" fill="#666"/><rect x="1300.4" y="941.2" width="2.2" height="2.2" fill="#666"/><path d="M1275.7 951.95 h21.7 v14.7 h-21.7 l-4 -3 v-8.7 z" fill="#1c1c1c"/><rect x="1297.4" y="954.05" width="8.2" height="10.5" fill="#d8d8d8" stroke="#999" stroke-width="0.8"/><rect x="1300.4" y="956.3" width="2.2" height="2.2" fill="#666"/><rect x="1300.4" y="960.3" width="2.2" height="2.2" fill="#666"/><path d="M1275.7 970.25 h21.7 v14.7 h-21.7 l-4 -3 v-8.7 z" fill="#1c1c1c"/><rect x="1297.4" y="972.35" width="8.2" height="10.5" fill="#d8d8d8" stroke="#999" stroke-width="0.8"/><rect x="1300.4" y="974.6" width="2.2" height="2.2" fill="#666"/><rect x="1300.4" y="978.6" width="2.2" height="2.2" fill="#666"/><path d="M1088 1215.65 h21.7 v14.7 h-21.7 l-4 -3 v-8.7 z" fill="#1c1c1c"/><rect x="1109.7" y="1217.75" width="8.2" height="10.5" fill="#d8d8d8" stroke="#999" stroke-width="0.8"/><rect x="1112.7" y="1220" width="2.2" height="2.2" fill="#666"/><rect x="1112.7" y="1224" width="2.2" height="2.2" fill="#666"/><path d="M1088 1233.25 h21.7 v14.7 h-21.7 l-4 -3 v-8.7 z" fill="#1c1c1c"/><rect x="1109.7" y="1235.35" width="8.2" height="10.5" fill="#d8d8d8" stroke="#999" stroke-width="0.8"/><rect x="1112.7" y="1237.6" width="2.2" height="2.2" fill="#666"/><rect x="1112.7" y="1241.6" width="2.2" height="2.2" fill="#666"/><path d="M1088 1250.85 h21.7 v14.7 h-21.7 l-4 -3 v-8.7 z" fill="#1c1c1c"/><rect x="1109.7" y="1252.95" width="8.2" height="10.5" fill="#d8d8d8" stroke="#999" stroke-width="0.8"/><rect x="1112.7" y="1255.2" width="2.2" height="2.2" fill="#666"/><rect x="1112.7" y="1259.2" width="2.2" height="2.2" fill="#666"/><path d="M1088 1269.15 h21.7 v14.7 h-21.7 l-4 -3 v-8.7 z" fill="#1c1c1c"/><rect x="1109.7" y="1271.25" width="8.2" height="10.5" fill="#d8d8d8" stroke="#999" stroke-width="0.8"/><rect x="1112.7" y="1273.5" width="2.2" height="2.2" fill="#666"/><rect x="1112.7" y="1277.5" width="2.2" height="2.2" fill="#666"/><path d="M1009 873 L1009 977 L1272 977" fill="none" stroke="#1622c4" stroke-width="2" /><path d="M1028 867.4 L1028 958.6 L1272 958.6" fill="none" stroke="#1622c4" stroke-width="2" /><path d="M1045 864.4 L1045 940 L1272 940" fill="none" stroke="#1622c4" stroke-width="2" /><path d="M1064 860 L1064 921 L1272 921" fill="none" stroke="#1622c4" stroke-width="2" /><path d="M657.5 943 L657.5 1277.5 L1084 1277.5" fill="none" stroke="#1622c4" stroke-width="2" /><path d="M676 940.7 L676 1259 L1084 1259" fill="none" stroke="#1622c4" stroke-width="2" /><path d="M695 934.7 L695 1241.5 L1084 1241.5" fill="none" stroke="#1622c4" stroke-width="2" /><path d="M712.5 929.3 L712.5 1222.5 L1084 1222.5" fill="none" stroke="#1622c4" stroke-width="2" /><path d="M567.7 968.7 L567.7 1180 L136 1180 L136 1257" fill="none" stroke="#1622c4" stroke-width="2" /><path d="M583.7 963.3 L583.7 1198.5 L355.5 1198.5 L355.5 1259.6" fill="none" stroke="#1622c4" stroke-width="2" /><path d="M609.6 957.3 L609.6 1263.5" fill="none" stroke="#1622c4" stroke-width="2" /><path d="M470 961 L470 1017.5 L227 1017.5 L227 797.5" fill="none" stroke="#1622c4" stroke-width="2" /><path d="M517.5 954 L517.5 1098.5 L206 1098.5" fill="none" stroke="#1622c4" stroke-width="2" /><text x="1151" y="919" font-family="Liberation Sans" font-size="18" font-weight="bold" text-anchor="start" fill="#111" textLength="11.5" lengthAdjust="spacingAndGlyphs">A</text><text x="1130.5" y="938.5" font-family="Liberation Sans" font-size="18" font-weight="bold" text-anchor="start" fill="#111" textLength="11" lengthAdjust="spacingAndGlyphs">B</text><text x="1114" y="958" font-family="Liberation Sans" font-size="18" font-weight="bold" text-anchor="start" fill="#111" textLength="12" lengthAdjust="spacingAndGlyphs">C</text><text x="1059" y="975.5" font-family="Liberation Sans" font-size="16" font-weight="bold" text-anchor="start" fill="#111" textLength="114" lengthAdjust="spacingAndGlyphs">USB3.0 Cable</text><text x="825" y="1221" font-family="Liberation Sans" font-size="18" font-weight="bold" text-anchor="start" fill="#111" textLength="12" lengthAdjust="spacingAndGlyphs">A</text><text x="805" y="1240" font-family="Liberation Sans" font-size="18" font-weight="bold" text-anchor="start" fill="#111" textLength="11.5" lengthAdjust="spacingAndGlyphs">B</text><text x="787.5" y="1257.5" font-family="Liberation Sans" font-size="18" font-weight="bold" text-anchor="start" fill="#111" textLength="12.5" lengthAdjust="spacingAndGlyphs">C</text><text x="737" y="1276" font-family="Liberation Sans" font-size="16" font-weight="bold" text-anchor="start" fill="#111" textLength="114" lengthAdjust="spacingAndGlyphs">USB3.0 Cable</text><text x="291" y="1013.5" font-family="Liberation Sans" font-size="16" font-weight="bold" text-anchor="start" fill="#111" textLength="118" lengthAdjust="spacingAndGlyphs">Wired remote</text><text x="305" y="1091.5" font-family="Liberation Sans" font-size="16" font-weight="bold" text-anchor="start" fill="#111" textLength="126.5" lengthAdjust="spacingAndGlyphs">Power adapter</text><text x="1218" y="603.2" font-family="Liberation Sans" font-size="15" font-weight="bold" text-anchor="start" fill="#111" textLength="100.7" lengthAdjust="spacingAndGlyphs">HDMI Cable</text><text x="1214.4" y="789.1" font-family="Liberation Sans" font-size="15" font-weight="bold" text-anchor="start" fill="#111" textLength="114" lengthAdjust="spacingAndGlyphs">USB3.0 Cable</text><text x="93.6" y="1475.5" font-family="Liberation Sans" font-size="15.6" font-weight="bold" text-anchor="start" fill="#111" textLength="84.7" lengthAdjust="spacingAndGlyphs">Monitor C</text><text x="317.4" y="1476.5" font-family="Liberation Sans" font-size="15.6" font-weight="bold" text-anchor="start" fill="#111" textLength="84.6" lengthAdjust="spacingAndGlyphs">Monitor B</text><text x="530.4" y="1478.6" font-family="Liberation Sans" font-size="15.6" font-weight="bold" text-anchor="start" fill="#111" textLength="85.2" lengthAdjust="spacingAndGlyphs">Monitor A</text><path d="M1177.6 543.9 L1148.14 576.965 L1118.38 606.685 L1141.8 578.879 L1056.85 653.654 L1055.15 651.746 L1138.87 575.6 L1108.64 595.804 L1141.48 569.513 Z" fill="#1212e6"/><path d="M1192 588.1 L1160.53 623.436 L1126.31 657.194 L1153.85 624.956 L1055.15 711.457 L1053.45 709.543 L1150.93 621.667 L1115.68 645.235 L1153.22 615.214 Z" fill="#1212e6"/><path d="M1220.4 624.8 L1180.62 668.857 L1138.85 710.672 L1173.28 669.63 L1056.45 772.257 L1054.75 770.343 L1170.36 666.341 L1125.56 695.724 L1171.99 659.141 Z" fill="#1212e6"/><path d="M1200 774.7 L1145.86 785.827 L1093.45 794.263 L1139.55 783.162 L999.932 796.673 L999.668 794.127 L1139.1 778.785 L1091.7 777.353 L1144.73 774.886 Z" fill="#1212e6"/><rect x="33.6" y="1296.4" width="203.9" height="123.1" rx="5" fill="#29292b"/><path d="M176.33 1296.4 h56.17 q5 0 5 5 v10 z" fill="#4a4a4c" opacity="0.6"/><svg x="40.8" y="1303.6" width="188.7" height="108.4" viewBox="0 0 100 60" preserveAspectRatio="none"><rect width="100" height="60" fill="url(#scrC)"/><ellipse cx="28" cy="44" rx="30" ry="20" fill="url(#glowC)"/><path d="M8 58 Q30 38 62 28" stroke="#a8ecff" stroke-width="0.6" fill="none" opacity="0.6"/><path d="M14 58 Q40 50 75 57" stroke="#8fd8ff" stroke-width="0.5" fill="none" opacity="0.6"/><rect y="57.3" width="100" height="2.7" fill="#4a8ad0" opacity="0.85"/><path d="M41.5 20 Q46 17.5 52 19.5 L50.5 29 Q45 27 40 29.5 Z" fill="#f26a2a"/><path d="M52.5 20.5 Q57 23.5 63 21.5 L61.5 31.5 Q56 33 51 30 Z" fill="#7ac143"/><path d="M39.5 30.5 Q45 28 50 30 L48.5 40 Q43 38 38 40.5 Z" fill="#2aa0e8"/><path d="M50.5 31 Q56 34 61.5 32.5 L60 42.5 Q54 44 49 41 Z" fill="#fdc82a"/><rect x="1.2" y="2" width="3" height="3" fill="#e8f0fa" opacity="0.85"/><rect x="1.2" y="10" width="3" height="3" fill="#e8f0fa" opacity="0.85"/><rect x="1.2" y="18" width="3" height="3" fill="#e8f0fa" opacity="0.85"/><rect x="1.2" y="26" width="3" height="3" fill="#e8f0fa" opacity="0.85"/><rect x="1.2" y="34" width="3" height="3" fill="#e8f0fa" opacity="0.85"/><rect x="1.2" y="42" width="3" height="3" fill="#e8f0fa" opacity="0.85"/><rect x="1.2" y="50" width="3" height="3" fill="#e8f0fa" opacity="0.85"/><rect x="7" y="2" width="3" height="3" fill="#e8eef8" opacity="0.8"/><rect x="7" y="10" width="3" height="3" fill="#e85a30" opacity="0.9"/><rect x="94" y="52" width="2.2" height="3" fill="#e8eef8" opacity="0.8"/></svg><rect x="40.8" y="1412" width="188.7" height="6" rx="2" fill="url(#chin)"/><rect x="128.8" y="1419.5" width="12.8" height="24.5" fill="url(#neck)"/><path d="M87.2 1444 L184 1444 Q196 1446 196 1451.7 L75.2 1451.7 Q75.2 1446 87.2 1444 Z" fill="#2c2c2e"/><rect x="78.2" y="1451.7" width="114.8" height="3" fill="#1a1a1a"/><rect x="254.4" y="1300.4" width="204" height="123" rx="5" fill="#29292b"/><path d="M397.2 1300.4 h56.2 q5 0 5 5 v10 z" fill="#4a4a4c" opacity="0.6"/><svg x="259.5" y="1306.4" width="194.1" height="110.1" viewBox="0 0 100 60" preserveAspectRatio="none"><rect width="100" height="60" fill="url(#scrB)"/><ellipse cx="28" cy="32" rx="26" ry="16" fill="#ffffff" opacity="0.55"/><path d="M62 14 L66 12 L68 16 L72 11 L76 15 L80 9 L84 14 L88 10 L92 13 L96 9 L100 12 L100 32 L62 32 Z" fill="#8fa6bc" opacity="0.7"/><path d="M30 27 L78 0 L86 2 L38 31 Z" fill="#2a4a78" opacity="0.85"/><path d="M44 19 L56 12 L60 17 L48 24 Z" fill="#3aa04a" opacity="0.9"/><path d="M14 40 L52 37 L56 52 L20 54 Z" fill="#eceef0"/><path d="M41 38 L100 43 L100 60 L58 60 L46 48 Z" fill="#1c1c1c"/><path d="M47 43 L100 47 L100 57 L60 58 L50 48 Z" fill="#9cc0e6"/><path d="M46 40.5 L100 45 M52 52.5 L100 58.5" stroke="#f0f0f0" stroke-width="0.8" stroke-dasharray="1.2 1.6" fill="none"/><path d="M68 47 L68 58 M84 46 L84 58" stroke="#1c1c1c" stroke-width="1.2"/></svg><rect x="259.5" y="1416.5" width="194.1" height="5.4" rx="2" fill="url(#chin)"/><rect x="349.5" y="1423" width="13.5" height="25" fill="url(#neck)"/><path d="M308.4 1448 L405 1448 Q417 1450 417 1455.5 L296.4 1455.5 Q296.4 1450 308.4 1448 Z" fill="#2c2c2e"/><rect x="299.4" y="1455.5" width="114.6" height="3" fill="#1a1a1a"/><rect x="471.6" y="1301" width="204" height="123" rx="5" fill="#29292b"/><path d="M614.4 1301 h56.2 q5 0 5 5 v10 z" fill="#4a4a4c" opacity="0.6"/><svg x="478.5" y="1307" width="193.5" height="109.5" viewBox="0 0 100 60" preserveAspectRatio="none"><rect width="100" height="60" fill="url(#scrA)"/><path d="M0 0 L100 0 L100 25 L0 6 Z" fill="#121110"/><path d="M0 4 L100 23 L100 26 L0 8 Z" fill="#4a4642" opacity="0.8"/><path d="M50 5 L60 8 M70 13 L78 16 M85 19 L92 22" stroke="#d8c8a8" stroke-width="0.9" opacity="0.8"/><ellipse cx="40" cy="22" rx="18" ry="6" fill="#7a8aa0" opacity="0.25"/><path d="M40 26 Q46 21 60 24 L88 30 L93 36 L80 44 Q60 46 46 38 Z" fill="#1e1c1a"/><path d="M44 26 Q40 32 48 34 L52 35" stroke="#f0f0f0" stroke-width="1.3" fill="none"/><path d="M54 38.5 Q62 42 66 38" stroke="#f0f0f0" stroke-width="1.3" fill="none"/><ellipse cx="80" cy="37" rx="4" ry="3.5" fill="#0c0c0c"/><path d="M82 30 L93 34 L88 38 Z" fill="#8a6a40" opacity="0.7"/></svg><rect x="478.5" y="1416.5" width="193.5" height="6" rx="2" fill="url(#chin)"/><rect x="567" y="1424" width="13.5" height="25" fill="url(#neck)"/><path d="M525.6 1449 L622 1449 Q634 1451 634 1456 L513.6 1456 Q513.6 1451 525.6 1449 Z" fill="#2c2c2e"/><rect x="516.6" y="1456" width="114.4" height="3" fill="#1a1a1a"/><g transform="translate(0 0)"><path d="M1306.2 908 L1351.7 863.2 L1351.7 1056.9 L1306.2 1039.3 Z" fill="url(#pcside)"/><path d="M1306.2 908 L1351.7 863.2 L1353 865 L1308 909 Z" fill="#a0a2a8"/><ellipse cx="1318.7" cy="943.5" rx="8.5" ry="16.5" fill="url(#fan)"/><rect x="1310.6" y="992.3" width="15.5" height="36" fill="#2e3a58"/><rect x="1312" y="995" width="12" height="30" fill="#3e5080" opacity="0.7"/><rect x="1351.7" y="862.5" width="85.1" height="194.4" fill="url(#pcfront)"/><rect x="1351.7" y="862.5" width="4.5" height="194.4" fill="url(#chrome)"/><rect x="1432.3" y="864" width="4.5" height="192" fill="url(#chrome)"/><path d="M1358 867 h72 q2 0 2 3 v9 h-76 v-9 q0 -3 2 -3 z" fill="#4a4c53" stroke="#6a6c72" stroke-width="0.8"/><rect x="1356.5" y="883.7" width="75.5" height="8.8" fill="#c9cacd"/><rect x="1362" y="886.5" width="9" height="3" fill="#445"/><circle cx="1380" cy="888" r="1.6" fill="#3a8a3a"/><circle cx="1388" cy="888" r="1.6" fill="#b03030"/><rect x="1396" y="886.5" width="8" height="3" fill="#556"/><circle cx="1424" cy="888" r="3.2" fill="#6a7f90" stroke="#333" stroke-width="0.6"/><line x1="1356.5" y1="905" x2="1432" y2="905" stroke="#4a4c52" stroke-width="0.8"/><line x1="1356.5" y1="960" x2="1432" y2="960" stroke="#4a4c52" stroke-width="0.8"/><rect x="1364.9" y="971" width="62.3" height="28" rx="1.5" fill="#161618"/><rect x="1366.5" y="973" width="48" height="24" fill="url(#lcd)"/><path d="M1372 980 q4 -4 8 1 q3 3 6 0 M1392 978 q3 4 6 4 M1374 991 l4 -3 M1390 990 q4 -5 8 0" stroke="#b0d0ff" stroke-width="1" fill="none"/><circle cx="1421" cy="977.5" r="1.6" fill="#ddd"/><circle cx="1421" cy="985" r="1.6" fill="#ddd"/><circle cx="1421" cy="992.5" r="1.6" fill="#ddd"/><rect x="1369.3" y="1008.4" width="55" height="17" fill="#4e5057" stroke="#3a3c42" stroke-width="1.2"/><rect x="1357" y="1049" width="75" height="7" fill="#1e1e22"/></g><ellipse cx="1395.7" cy="932.9" rx="39.5" ry="16" fill="#1a1ee6"/><text x="1395.7" y="940.64" font-family="Liberation Sans" font-weight="bold" font-size="21.5" text-anchor="middle" fill="#fff" textLength="43" lengthAdjust="spacingAndGlyphs">PC1</text><g transform="translate(-185 261)"><path d="M1306.2 908 L1351.7 863.2 L1351.7 1056.9 L1306.2 1039.3 Z" fill="url(#pcside)"/><path d="M1306.2 908 L1351.7 863.2 L1353 865 L1308 909 Z" fill="#a0a2a8"/><ellipse cx="1318.7" cy="943.5" rx="8.5" ry="16.5" fill="url(#fan)"/><rect x="1310.6" y="992.3" width="15.5" height="36" fill="#2e3a58"/><rect x="1312" y="995" width="12" height="30" fill="#3e5080" opacity="0.7"/><rect x="1351.7" y="862.5" width="85.1" height="194.4" fill="url(#pcfront)"/><rect x="1351.7" y="862.5" width="4.5" height="194.4" fill="url(#chrome)"/><rect x="1432.3" y="864" width="4.5" height="192" fill="url(#chrome)"/><path d="M1358 867 h72 q2 0 2 3 v9 h-76 v-9 q0 -3 2 -3 z" fill="#4a4c53" stroke="#6a6c72" stroke-width="0.8"/><rect x="1356.5" y="883.7" width="75.5" height="8.8" fill="#c9cacd"/><rect x="1362" y="886.5" width="9" height="3" fill="#445"/><circle cx="1380" cy="888" r="1.6" fill="#3a8a3a"/><circle cx="1388" cy="888" r="1.6" fill="#b03030"/><rect x="1396" y="886.5" width="8" height="3" fill="#556"/><circle cx="1424" cy="888" r="3.2" fill="#6a7f90" stroke="#333" stroke-width="0.6"/><line x1="1356.5" y1="905" x2="1432" y2="905" stroke="#4a4c52" stroke-width="0.8"/><line x1="1356.5" y1="960" x2="1432" y2="960" stroke="#4a4c52" stroke-width="0.8"/><rect x="1364.9" y="971" width="62.3" height="28" rx="1.5" fill="#161618"/><rect x="1366.5" y="973" width="48" height="24" fill="url(#lcd)"/><path d="M1372 980 q4 -4 8 1 q3 3 6 0 M1392 978 q3 4 6 4 M1374 991 l4 -3 M1390 990 q4 -5 8 0" stroke="#b0d0ff" stroke-width="1" fill="none"/><circle cx="1421" cy="977.5" r="1.6" fill="#ddd"/><circle cx="1421" cy="985" r="1.6" fill="#ddd"/><circle cx="1421" cy="992.5" r="1.6" fill="#ddd"/><rect x="1369.3" y="1008.4" width="55" height="17" fill="#4e5057" stroke="#3a3c42" stroke-width="1.2"/><rect x="1357" y="1049" width="75" height="7" fill="#1e1e22"/></g><ellipse cx="1211.7" cy="1182.9" rx="39.5" ry="16" fill="#1a1ee6"/><text x="1211.7" y="1190.64" font-family="Liberation Sans" font-weight="bold" font-size="21.5" text-anchor="middle" fill="#fff" textLength="43" lengthAdjust="spacingAndGlyphs">PC4</text><g transform="translate(178 70) rotate(-25)"><rect x="-76" y="-12" width="34" height="24" fill="#d8d8d8" stroke="#8a8a8a" stroke-width="1"/><rect x="-68" y="-7" width="6" height="5" fill="#444"/><rect x="-68" y="3" width="6" height="5" fill="#444"/><rect x="-44" y="-20" width="104" height="40" rx="8" fill="#141414" stroke="#707070" stroke-width="1.8"/><rect x="-38" y="-13" width="92" height="26" rx="4" fill="#262626"/><rect x="0" y="-15" width="32" height="20" rx="6" fill="#e4e4e4"/><rect x="16" y="-15" width="16" height="20" fill="#cacaca"/><text x="-32" y="8" font-family="Liberation Sans" font-size="5" fill="#aaa" letter-spacing="1.5">CRUZER</text><text x="38" y="-4" font-family="Liberation Sans" font-size="4.5" fill="#bbb">Micro</text><text x="38" y="4" font-family="Liberation Sans" font-size="4.5" fill="#bbb">4GB</text></g><g><path d="M66 176 Q68 148 92 144 L255 150 Q261 152 261 165 L261 192 L64 192 Z" fill="#1f1f1f"/><path d="M66 176 Q72 165 100 166 L250 168 L261 192 L64 192 Z" fill="#2a2a2a"/><path d="M123 151 L226 142 L230 167 L128 173 Z" fill="#f2f0ea"/><rect x="130" y="152" width="14" height="16" fill="#e8b870" transform="rotate(-5 137 160)"/><rect x="142" y="160" width="22" height="9" fill="#4a6aa8" transform="rotate(-5 150 165)"/><path d="M168 149 l50 -4 M168 153 l50 -4 M168 157 l50 -4 M168 161 l50 -4" stroke="#777" stroke-width="1"/><rect x="64" y="192" width="197" height="70" rx="3" fill="#1a1a1a"/><rect x="64" y="196.5" width="197" height="1" fill="#5a5a5a"/><rect x="64" y="217.5" width="197" height="1" fill="#5a5a5a"/><rect x="111" y="193" width="109" height="29" fill="#111"/><rect x="129" y="200" width="26" height="5" fill="#8a9a8a"/><rect x="116" y="209" width="3" height="1.6" fill="#666"/><rect x="116" y="214" width="3" height="1.6" fill="#666"/><rect x="123" y="209" width="3" height="1.6" fill="#666"/><rect x="123" y="214" width="3" height="1.6" fill="#666"/><rect x="130" y="209" width="3" height="1.6" fill="#666"/><rect x="130" y="214" width="3" height="1.6" fill="#666"/><rect x="137" y="209" width="3" height="1.6" fill="#666"/><rect x="137" y="214" width="3" height="1.6" fill="#666"/><rect x="144" y="209" width="3" height="1.6" fill="#666"/><rect x="144" y="214" width="3" height="1.6" fill="#666"/><rect x="151" y="209" width="3" height="1.6" fill="#666"/><rect x="151" y="214" width="3" height="1.6" fill="#666"/><rect x="158" y="209" width="3" height="1.6" fill="#666"/><rect x="158" y="214" width="3" height="1.6" fill="#666"/><rect x="165" y="209" width="3" height="1.6" fill="#666"/><rect x="165" y="214" width="3" height="1.6" fill="#666"/><rect x="172" y="209" width="3" height="1.6" fill="#666"/><rect x="172" y="214" width="3" height="1.6" fill="#666"/><rect x="179" y="209" width="3" height="1.6" fill="#666"/><rect x="179" y="214" width="3" height="1.6" fill="#666"/><rect x="186" y="209" width="3" height="1.6" fill="#666"/><rect x="186" y="214" width="3" height="1.6" fill="#666"/><rect x="193" y="209" width="3" height="1.6" fill="#666"/><rect x="193" y="214" width="3" height="1.6" fill="#666"/><rect x="200" y="209" width="3" height="1.6" fill="#666"/><rect x="200" y="214" width="3" height="1.6" fill="#666"/><rect x="207" y="209" width="3" height="1.6" fill="#666"/><rect x="207" y="214" width="3" height="1.6" fill="#666"/><rect x="209" y="200" width="8" height="18" fill="#6a6a6a"/><path d="M123 228 L219 228 L221 262 L123 262 Z" fill="#f4f2ee"/><rect x="134" y="240" width="2" height="12" fill="#e0a040"/><rect x="138" y="238.8" width="2" height="13.2" fill="#e0a040"/><rect x="142" y="237.6" width="2" height="14.4" fill="#e0a040"/><rect x="146" y="236.4" width="2" height="15.6" fill="#e0a040"/><rect x="150" y="235.2" width="2" height="16.8" fill="#e0a040"/><rect x="154" y="234" width="2" height="18" fill="#e0a040"/><rect x="158" y="232.8" width="2" height="19.2" fill="#e0a040"/><rect x="173" y="238" width="38" height="13" fill="#3a5aa0"/><rect x="175" y="240" width="34" height="9" fill="#8a6a40"/><rect x="132" y="254" width="80" height="2" fill="#888"/><rect x="175" y="258" width="45" height="3" fill="#e09030"/><rect x="116" y="262" width="100" height="6" fill="#0e0e0e"/><ellipse cx="244" cy="253" rx="5" ry="3" fill="#e8e8f0"/></g><g><path d="M116 382 Q124 380 133 390 Q135 410 134 430 L120 430 Q119 405 116 382 Z" fill="#151515"/><rect x="118" y="428" width="17.5" height="9" rx="2" fill="#1a1a1a"/><path d="M104.5 450 Q106 439 118 436.5 L135.5 436.5 Q146 439 147.5 450 Z" fill="#121212"/><ellipse cx="126" cy="449.5" rx="21.5" ry="2" fill="#1e1e1e"/><g transform="translate(105 360) rotate(48)"><rect x="0" y="-7" width="62" height="14" rx="4" fill="#1a1a1a"/><rect x="10" y="-6" width="14" height="12" fill="#c8c8c8"/><rect x="34" y="-5" width="20" height="10" fill="#d8d8d8"/><path d="M62 -4 L92 0 L62 4 Z" fill="#222"/><ellipse cx="0" cy="0" rx="10" ry="12" fill="#1a1a1a"/><ellipse cx="3" cy="-1" rx="6" ry="8" fill="#cfcfcf"/></g></g><g><path d="M66 497 L100 491 L110 493 L110 572 L64 569 Z" fill="#2a2624"/><path d="M98 504 L110 494 L110 572 L84 570 Z" fill="#b04a1c"/><ellipse cx="75" cy="540" rx="7.5" ry="11" fill="#111" stroke="#333" stroke-width="1"/><ellipse cx="75" cy="543" rx="4" ry="5" fill="#b0a898"/><path d="M103.7 490 L150 487 L153 490 L153 584 L104 580 Z" fill="#2e2a28"/><path d="M153 488 L168 490 L169 576 L153 583 Z" fill="#c0582a"/><path d="M156 495 L166 497 L166 560 L156 570 Z" fill="#8a3a18" opacity="0.5"/><circle cx="128" cy="536.5" r="18.5" fill="#161616" stroke="#3a3a3a" stroke-width="1.5"/><circle cx="128" cy="537" r="13" fill="#8a8276"/><circle cx="128" cy="537" r="9" fill="#6a645c"/><circle cx="128" cy="537" r="3.5" fill="#d0c8b8"/><circle cx="129" cy="508" r="7.5" fill="#1a1a1a" stroke="#5a5a5a" stroke-width="1.5"/><circle cx="129" cy="508" r="2.5" fill="#999"/><circle cx="114" cy="574" r="2" fill="#e8b060"/><circle cx="123" cy="574" r="2" fill="#e8b060"/><circle cx="133" cy="574" r="2" fill="#e8b060"/></g><path d="M565 7 Q589 8 589 36 Q589 50 586 58 Q589 72 578 83 Q566 90 555 83 Q543 72 545 58 Q541 48 542 34 Q543 8 565 7 Z" fill="#161616"/><path d="M560 14 Q565 12 568 16 L568 30 Q565 33 561 30 Z" fill="#3a3a3a"/><path d="M548 30 Q550 16 560 12" stroke="#555" stroke-width="1.5" fill="none"/><path d="M583 40 Q585 55 580 70" stroke="#444" stroke-width="1.5" fill="none"/><path d="M951 268 Q952 254 985 252 Q1060 248 1100 251 L1185 253 Q1222 256 1223 272 L1226 332 Q1226 349 1200 349 L975 350 Q951 350 950 336 Z" fill="#161616"/><path d="M975 254 Q1060 248 1135 252 L1135 267 L978 267 Z" fill="#1e1e1e"/><ellipse cx="992" cy="261" rx="4" ry="2.6" fill="#2c2c2e" stroke="#0c0c0c" stroke-width="0.8"/><ellipse cx="1006" cy="261" rx="4" ry="2.6" fill="#2c2c2e" stroke="#0c0c0c" stroke-width="0.8"/><ellipse cx="1020" cy="261" rx="4" ry="2.6" fill="#2c2c2e" stroke="#0c0c0c" stroke-width="0.8"/><ellipse cx="1034" cy="261" rx="4" ry="2.6" fill="#2c2c2e" stroke="#0c0c0c" stroke-width="0.8"/><ellipse cx="1062" cy="261" rx="4" ry="2.6" fill="#2c2c2e" stroke="#0c0c0c" stroke-width="0.8"/><ellipse cx="1076" cy="261" rx="4" ry="2.6" fill="#2c2c2e" stroke="#0c0c0c" stroke-width="0.8"/><ellipse cx="1090" cy="261" rx="4" ry="2.6" fill="#2c2c2e" stroke="#0c0c0c" stroke-width="0.8"/><ellipse cx="1104" cy="261" rx="4" ry="2.6" fill="#2c2c2e" stroke="#0c0c0c" stroke-width="0.8"/><circle cx="1048" cy="261" r="5" fill="#222" stroke="#0c0c0c" stroke-width="0.8"/><rect x="955.6" y="270.7" width="11.5" height="6.8" rx="1" fill="#3a3a3c"/><rect x="978.5" y="270.7" width="9" height="6.8" rx="1" fill="#3a3a3c"/><rect x="990.3" y="270.7" width="9" height="6.8" rx="1" fill="#3a3a3c"/><rect x="1002.1" y="270.7" width="9" height="6.8" rx="1" fill="#3a3a3c"/><rect x="1013.9" y="270.7" width="9" height="6.8" rx="1" fill="#3a3a3c"/><rect x="1030.5" y="270.7" width="9" height="6.8" rx="1" fill="#3a3a3c"/><rect x="1042.3" y="270.7" width="9" height="6.8" rx="1" fill="#3a3a3c"/><rect x="1054.1" y="270.7" width="9" height="6.8" rx="1" fill="#3a3a3c"/><rect x="1065.9" y="270.7" width="9" height="6.8" rx="1" fill="#3a3a3c"/><rect x="1082.5" y="270.7" width="9" height="6.8" rx="1" fill="#3a3a3c"/><rect x="1094.3" y="270.7" width="9" height="6.8" rx="1" fill="#3a3a3c"/><rect x="1106.1" y="270.7" width="9" height="6.8" rx="1" fill="#3a3a3c"/><rect x="1117.9" y="270.7" width="9" height="6.8" rx="1" fill="#3a3a3c"/><rect x="1136" y="270.7" width="9" height="6.8" rx="1" fill="#3a3a3c"/><rect x="1148" y="270.7" width="9" height="6.8" rx="1" fill="#3a3a3c"/><rect x="1160" y="270.7" width="9" height="6.8" rx="1" fill="#3a3a3c"/><rect x="955.6" y="280.9" width="8.3" height="7.6" rx="1" fill="#3a3a3c"/><rect x="967.2" y="280.9" width="8.3" height="7.6" rx="1" fill="#3a3a3c"/><rect x="978.8" y="280.9" width="8.3" height="7.6" rx="1" fill="#3a3a3c"/><rect x="990.4" y="280.9" width="8.3" height="7.6" rx="1" fill="#3a3a3c"/><rect x="1002" y="280.9" width="8.3" height="7.6" rx="1" fill="#3a3a3c"/><rect x="1013.6" y="280.9" width="8.3" height="7.6" rx="1" fill="#3a3a3c"/><rect x="1025.2" y="280.9" width="8.3" height="7.6" rx="1" fill="#3a3a3c"/><rect x="1036.8" y="280.9" width="8.3" height="7.6" rx="1" fill="#3a3a3c"/><rect x="1048.4" y="280.9" width="8.3" height="7.6" rx="1" fill="#3a3a3c"/><rect x="1060" y="280.9" width="8.3" height="7.6" rx="1" fill="#3a3a3c"/><rect x="1071.6" y="280.9" width="8.3" height="7.6" rx="1" fill="#3a3a3c"/><rect x="1083.2" y="280.9" width="8.3" height="7.6" rx="1" fill="#3a3a3c"/><rect x="1094.8" y="280.9" width="8.3" height="7.6" rx="1" fill="#3a3a3c"/><rect x="1106.4" y="280.9" width="18" height="7.6" rx="1" fill="#3a3a3c"/><rect x="955.6" y="291.5" width="13.5" height="7.6" rx="1" fill="#3a3a3c"/><rect x="972.4" y="291.5" width="8.3" height="7.6" rx="1" fill="#3a3a3c"/><rect x="984" y="291.5" width="8.3" height="7.6" rx="1" fill="#3a3a3c"/><rect x="995.6" y="291.5" width="8.3" height="7.6" rx="1" fill="#3a3a3c"/><rect x="1007.2" y="291.5" width="8.3" height="7.6" rx="1" fill="#3a3a3c"/><rect x="1018.8" y="291.5" width="8.3" height="7.6" rx="1" fill="#3a3a3c"/><rect x="1030.4" y="291.5" width="8.3" height="7.6" rx="1" fill="#3a3a3c"/><rect x="1042" y="291.5" width="8.3" height="7.6" rx="1" fill="#3a3a3c"/><rect x="1053.6" y="291.5" width="8.3" height="7.6" rx="1" fill="#3a3a3c"/><rect x="1065.2" y="291.5" width="8.3" height="7.6" rx="1" fill="#3a3a3c"/><rect x="1076.8" y="291.5" width="8.3" height="7.6" rx="1" fill="#3a3a3c"/><rect x="1088.4" y="291.5" width="8.3" height="7.6" rx="1" fill="#3a3a3c"/><rect x="1100" y="291.5" width="8.3" height="7.6" rx="1" fill="#3a3a3c"/><rect x="1111.6" y="291.5" width="12" height="7.6" rx="1" fill="#3a3a3c"/><rect x="955.6" y="302.2" width="14" height="7.6" rx="1" fill="#3a3a3c"/><rect x="972.9" y="302.2" width="8.3" height="7.6" rx="1" fill="#3a3a3c"/><rect x="984.5" y="302.2" width="8.3" height="7.6" rx="1" fill="#3a3a3c"/><rect x="996.1" y="302.2" width="8.3" height="7.6" rx="1" fill="#3a3a3c"/><rect x="1007.7" y="302.2" width="8.3" height="7.6" rx="1" fill="#3a3a3c"/><rect x="1019.3" y="302.2" width="8.3" height="7.6" rx="1" fill="#3a3a3c"/><rect x="1030.9" y="302.2" width="8.3" height="7.6" rx="1" fill="#3a3a3c"/><rect x="1042.5" y="302.2" width="8.3" height="7.6" rx="1" fill="#3a3a3c"/><rect x="1054.1" y="302.2" width="8.3" height="7.6" rx="1" fill="#3a3a3c"/><rect x="1065.7" y="302.2" width="8.3" height="7.6" rx="1" fill="#3a3a3c"/><rect x="1077.3" y="302.2" width="8.3" height="7.6" rx="1" fill="#3a3a3c"/><rect x="1088.9" y="302.2" width="8.3" height="7.6" rx="1" fill="#3a3a3c"/><rect x="1100.5" y="302.2" width="19" height="7.6" rx="1" fill="#3a3a3c"/><rect x="955.6" y="312.8" width="22" height="7.6" rx="1" fill="#3a3a3c"/><rect x="980.9" y="312.8" width="8.3" height="7.6" rx="1" fill="#3a3a3c"/><rect x="992.5" y="312.8" width="8.3" height="7.6" rx="1" fill="#3a3a3c"/><rect x="1004.1" y="312.8" width="8.3" height="7.6" rx="1" fill="#3a3a3c"/><rect x="1015.7" y="312.8" width="8.3" height="7.6" rx="1" fill="#3a3a3c"/><rect x="1027.3" y="312.8" width="8.3" height="7.6" rx="1" fill="#3a3a3c"/><rect x="1038.9" y="312.8" width="8.3" height="7.6" rx="1" fill="#3a3a3c"/><rect x="1050.5" y="312.8" width="8.3" height="7.6" rx="1" fill="#3a3a3c"/><rect x="1062.1" y="312.8" width="8.3" height="7.6" rx="1" fill="#3a3a3c"/><rect x="1073.7" y="312.8" width="8.3" height="7.6" rx="1" fill="#3a3a3c"/><rect x="1085.3" y="312.8" width="8.3" height="7.6" rx="1" fill="#3a3a3c"/><rect x="1096.9" y="312.8" width="27" height="7.6" rx="1" fill="#3a3a3c"/><rect x="955.6" y="323.4" width="11.5" height="7.6" rx="1" fill="#3a3a3c"/><rect x="970.4" y="323.4" width="11.5" height="7.6" rx="1" fill="#3a3a3c"/><rect x="985.2" y="323.4" width="11.5" height="7.6" rx="1" fill="#3a3a3c"/><rect x="1000" y="323.4" width="71" height="7.6" rx="1" fill="#3a3a3c"/><rect x="1074.3" y="323.4" width="11.5" height="7.6" rx="1" fill="#3a3a3c"/><rect x="1089.1" y="323.4" width="11.5" height="7.6" rx="1" fill="#3a3a3c"/><rect x="1103.9" y="323.4" width="11.5" height="7.6" rx="1" fill="#3a3a3c"/><rect x="1118.7" y="323.4" width="11.5" height="7.6" rx="1" fill="#3a3a3c"/><rect x="1136" y="280.9" width="9" height="7.6" rx="1" fill="#3a3a3c"/><rect x="1148" y="280.9" width="9" height="7.6" rx="1" fill="#3a3a3c"/><rect x="1160" y="280.9" width="9" height="7.6" rx="1" fill="#3a3a3c"/><rect x="1175" y="280.9" width="9" height="7.6" rx="1" fill="#3a3a3c"/><rect x="1187" y="280.9" width="9" height="7.6" rx="1" fill="#3a3a3c"/><rect x="1199" y="280.9" width="9" height="7.6" rx="1" fill="#3a3a3c"/><rect x="1211" y="280.9" width="9" height="7.6" rx="1" fill="#3a3a3c"/><rect x="1136" y="291.5" width="9" height="7.6" rx="1" fill="#3a3a3c"/><rect x="1148" y="291.5" width="9" height="7.6" rx="1" fill="#3a3a3c"/><rect x="1160" y="291.5" width="9" height="7.6" rx="1" fill="#3a3a3c"/><rect x="1175" y="291.5" width="9" height="7.6" rx="1" fill="#3a3a3c"/><rect x="1187" y="291.5" width="9" height="7.6" rx="1" fill="#3a3a3c"/><rect x="1199" y="291.5" width="9" height="7.6" rx="1" fill="#3a3a3c"/><rect x="1211" y="291.5" width="9" height="18.2" rx="1" fill="#3a3a3c"/><rect x="1175" y="302.2" width="9" height="7.6" rx="1" fill="#3a3a3c"/><rect x="1187" y="302.2" width="9" height="7.6" rx="1" fill="#3a3a3c"/><rect x="1199" y="302.2" width="9" height="7.6" rx="1" fill="#3a3a3c"/><rect x="1148" y="312.8" width="9" height="7.6" rx="1" fill="#3a3a3c"/><rect x="1175" y="312.8" width="9" height="7.6" rx="1" fill="#3a3a3c"/><rect x="1187" y="312.8" width="9" height="7.6" rx="1" fill="#3a3a3c"/><rect x="1199" y="312.8" width="9" height="7.6" rx="1" fill="#3a3a3c"/><rect x="1211" y="312.8" width="9" height="18.2" rx="1" fill="#3a3a3c"/><rect x="1136" y="323.4" width="9" height="7.6" rx="1" fill="#3a3a3c"/><rect x="1148" y="323.4" width="9" height="7.6" rx="1" fill="#3a3a3c"/><rect x="1160" y="323.4" width="9" height="7.6" rx="1" fill="#3a3a3c"/><rect x="1175" y="323.4" width="9" height="7.6" rx="1" fill="#3a3a3c"/><rect x="1187" y="323.4" width="9" height="7.6" rx="1" fill="#3a3a3c"/><rect x="1199" y="323.4" width="9" height="7.6" rx="1" fill="#3a3a3c"/><path d="M172.5 716.5 L279.5 716.5 Q283 717 283 721 L283.5 778 L167 778 L169 721 Q169.5 717 172.5 716.5 Z" fill="#222224"/><path d="M166.5 777 L283.5 777 L283.5 793 Q283.5 797.5 279 797.5 L171 797.5 Q166.5 797.5 166.5 793 Z" fill="#19191a"/><ellipse cx="225" cy="733" rx="8.5" ry="5.5" fill="#0a0a0a"/><ellipse cx="225" cy="733" rx="5" ry="3" fill="#5a5456"/><ellipse cx="203" cy="746" rx="8.5" ry="5.5" fill="#0a0a0a"/><ellipse cx="203" cy="746" rx="5" ry="3" fill="#5a5456"/><ellipse cx="248" cy="746" rx="8.5" ry="5.5" fill="#0a0a0a"/><ellipse cx="248" cy="746" rx="5" ry="3" fill="#5a5456"/><ellipse cx="225" cy="757.5" rx="8.5" ry="5.5" fill="#0a0a0a"/><ellipse cx="225" cy="757.5" rx="5" ry="3" fill="#5a5456"/><circle cx="226" cy="723" r="4" fill="#d9b24e"/><text x="226" y="726" font-family="Liberation Sans" font-weight="bold" font-size="8.5" text-anchor="middle" fill="#161616">1</text><circle cx="187.5" cy="745.5" r="4" fill="#d9b24e"/><text x="187.5" y="748.5" font-family="Liberation Sans" font-weight="bold" font-size="8.5" text-anchor="middle" fill="#161616">3</text><circle cx="264" cy="746" r="4" fill="#d9b24e"/><text x="264" y="749" font-family="Liberation Sans" font-weight="bold" font-size="8.5" text-anchor="middle" fill="#161616">4</text><circle cx="224.5" cy="770" r="4" fill="#d9b24e"/><text x="224.5" y="773" font-family="Liberation Sans" font-weight="bold" font-size="8.5" text-anchor="middle" fill="#161616">2</text><text x="185" y="720.5" font-family="Liberation Sans" font-weight="bold" font-size="3.5" fill="#d9b24e">Wired Remote</text><path d="M104 1058 Q116 1042 134 1044 Q150 1047 160 1062" stroke="#161616" stroke-width="3.2" fill="none"/><path d="M102 1057 C84 1052 80 1074 94 1088 C108 1102 126 1106 140 1116 C156 1128 154 1140 138 1136 C120 1130 108 1116 110 1098 C112 1084 126 1078 118 1066 C112 1058 106 1056 102 1057 Z" stroke="#141414" stroke-width="7" fill="none"/><path d="M92 1062 C88 1076 100 1090 116 1096 C134 1104 146 1112 152 1128" stroke="#1e1e1e" stroke-width="5.5" fill="none"/><path d="M114 1110 L121 1123" stroke="#a0a0a0" stroke-width="5"/><path d="M111 1104 L116 1112" stroke="#1a1a1a" stroke-width="6.5"/><path d="M148 1058 L160 1052 L168 1066 L156 1072 Z" fill="#1a1a1a"/><path d="M149 1075 Q149 1071 153 1070 L176 1063 Q180 1062 183 1065 L206 1094 L207 1108 L178 1122 Q174 1123 171 1120 L151 1100 Z" fill="#1f1f1f"/><path d="M149 1075 Q149 1071 153 1070 L176 1063 Q180 1062 183 1065 L206 1094 L180 1104 Z" fill="#2b2b2b"/><path d="M188 1111 l3 12 M201 1106 l3 12" stroke="#a0a0a0" stroke-width="2.6"/><ellipse cx="1264" cy="526" rx="41" ry="45" fill="none" stroke="#141414" stroke-width="3.6"/><ellipse cx="1264.6" cy="528.6" rx="38.8" ry="42.6" fill="none" stroke="#141414" stroke-width="3.6"/><ellipse cx="1265.2" cy="531.2" rx="36.6" ry="40.2" fill="none" stroke="#141414" stroke-width="3.6"/><path d="M1226 548 Q1218 552 1213 545" stroke="#141414" stroke-width="4.5" fill="none"/><path d="M1302 548 Q1312 552 1318 546" stroke="#141414" stroke-width="4.5" fill="none"/><g transform="translate(1208 558) rotate(24)"><rect x="-10" y="-16" width="20" height="26" rx="3" fill="#161616"/><rect x="-8" y="10" width="16" height="11" fill="#dcc48a"/><rect x="-5" y="12.5" width="10" height="4" fill="#3a3020"/></g><g transform="translate(1321 560) rotate(-24)"><rect x="-10" y="-16" width="20" height="26" rx="3" fill="#161616"/><rect x="-8" y="10" width="16" height="11" fill="#f2e8cc"/></g><ellipse cx="1272" cy="720" rx="41" ry="46" fill="none" stroke="#141414" stroke-width="3.6"/><ellipse cx="1272.6" cy="722.6" rx="38.8" ry="43.6" fill="none" stroke="#141414" stroke-width="3.6"/><ellipse cx="1273.2" cy="725.2" rx="36.6" ry="41.2" fill="none" stroke="#141414" stroke-width="3.6"/><path d="M1236 718 L1224 738" stroke="#141414" stroke-width="3.5" fill="none"/><path d="M1308 718 L1318 740" stroke="#141414" stroke-width="3.5" fill="none"/><g transform="translate(1218 752) rotate(16)"><rect x="-6.5" y="-16" width="13" height="28" rx="2" fill="#1a1a1a"/><rect x="-5.5" y="12" width="11" height="9" fill="#d8dce4"/><rect x="-5.5" y="17" width="11" height="4" fill="#2048b8"/></g><g transform="translate(1322 754) rotate(-16)"><rect x="-6.5" y="-16" width="13" height="28" rx="2" fill="#1a1a1a"/><rect x="-5.5" y="12" width="11" height="9" fill="#e4e8f0"/><rect x="-5.5" y="18" width="11" height="3" fill="#2a5ad0"/><rect x="-3" y="14" width="2" height="2" fill="#555"/><rect x="1" y="14" width="2" height="2" fill="#555"/></g><circle cx="1265.3" cy="555.8" r="78.5" fill="none" stroke="#1e1e1e" stroke-width="2"/><circle cx="1272.5" cy="744.7" r="78" fill="none" stroke="#1e1e1e" stroke-width="2"/></svg>
</body></html>
